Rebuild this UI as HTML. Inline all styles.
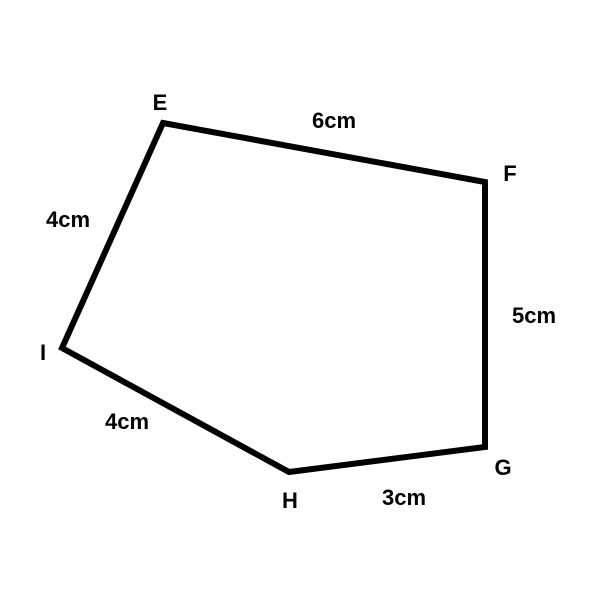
<!DOCTYPE html>
<html>
<head>
<meta charset="utf-8">
<style>
  html, body { margin: 0; padding: 0; background: #fff; }
  svg { display: block; }
  text { font-family: "Liberation Sans", sans-serif; font-weight: bold; font-size: 22px; fill: #000; }
</style>
</head>
<body>
<svg width="600" height="600" viewBox="0 0 600 600">
  <rect width="600" height="600" fill="#fff"/>
  <polygon
    points="163,123 485,182 485,447 289,472 62,348"
    fill="none" stroke="#000" stroke-width="6" stroke-linejoin="miter"/>
  <text x="160" y="110" text-anchor="middle">E</text>
  <text x="510" y="181" text-anchor="middle">F</text>
  <text x="503" y="475" text-anchor="middle">G</text>
  <text x="290" y="508" text-anchor="middle">H</text>
  <text x="43" y="360" text-anchor="middle">I</text>
  <text x="334" y="128" text-anchor="middle">6cm</text>
  <text x="534" y="323" text-anchor="middle">5cm</text>
  <text x="404" y="505" text-anchor="middle">3cm</text>
  <text x="127" y="429" text-anchor="middle">4cm</text>
  <text x="68" y="227" text-anchor="middle">4cm</text>
</svg>
</body>
</html>
